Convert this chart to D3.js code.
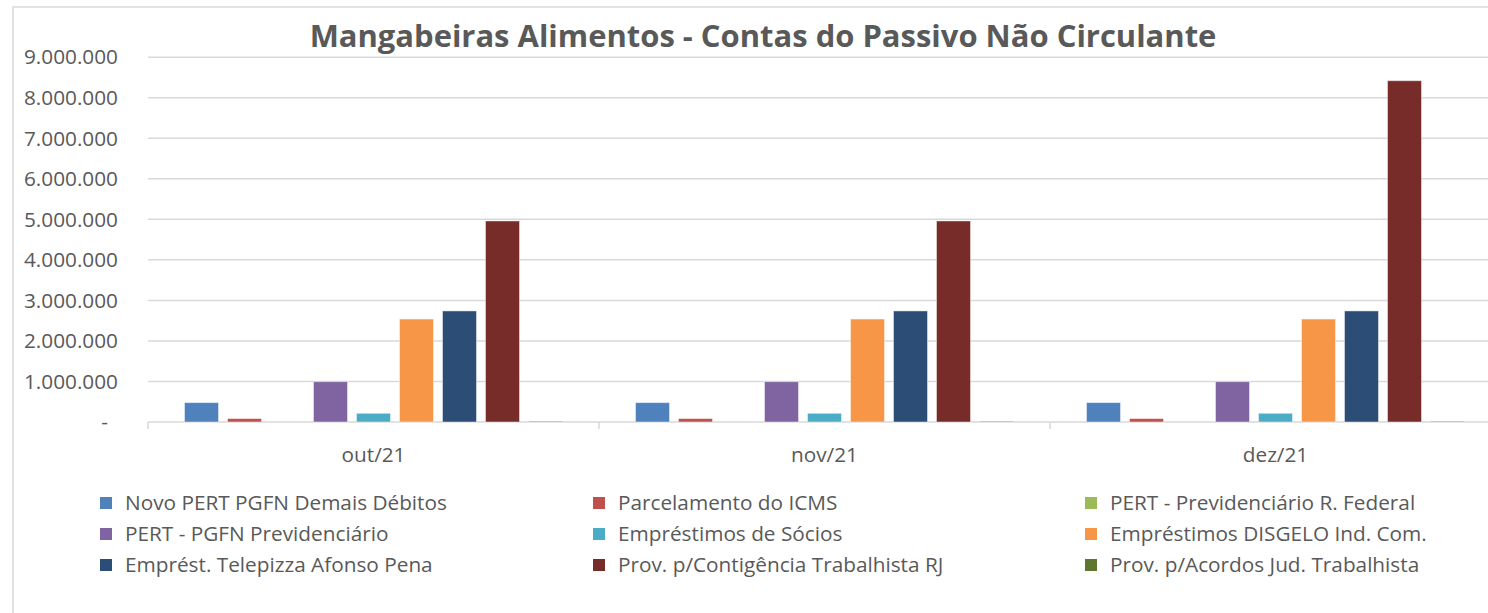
<!DOCTYPE html>
<html>
<head>
<meta charset="utf-8">
<script src="https://cdn.jsdelivr.net/npm/d3@7"></script>
<style>
  body { margin: 0; background: #fff; }
  svg { display: block; font-family: 'Open Sans', sans-serif; }
</style>
</head>
<body>
<svg id="chart" width="1488" height="613"></svg>
<script>
'use strict';

var categories = ['out/21', 'nov/21', 'dez/21'];
var seriesNames = [
  'Novo PERT PGFN Demais Débitos',
  'Parcelamento do ICMS',
  'PERT - Previdenciário R. Federal',
  'PERT - PGFN Previdenciário',
  'Empréstimos de Sócios',
  'Empréstimos DISGELO Ind. Com.',
  'Emprést. Telepizza Afonso Pena',
  'Prov. p/Contigência Trabalhista RJ',
  'Prov. p/Acordos Jud. Trabalhista'
];
var seriesColors = ['#4F81BD', '#C0504D', '#9BBB59', '#8064A2', '#4BACC6', '#F79646', '#2C4D75', '#772C2A', '#5F7530'];
// values per series: [out/21, nov/21, dez/21]
var novoPert = [478000, 478000, 478000];
var parcelamentoIcms = [85000, 85000, 85000];
var pertRFederal = [0, 0, 0];
var pertPgfnPrev = [995000, 995000, 995000];
var emprestSocios = [215000, 215000, 215000];
var emprestDisgelo = [2540000, 2540000, 2540000];
var emprestTelepizza = [2740000, 2740000, 2740000];
var provContigencia = [4960000, 4960000, 8420000];
var provAcordos = [15000, 15000, 15000];
var seriesValues = [novoPert, parcelamentoIcms, pertRFederal, pertPgfnPrev, emprestSocios,
  emprestDisgelo, emprestTelepizza, provContigencia, provAcordos];
var yTicks = [0, 1000000, 2000000, 3000000, 4000000, 5000000, 6000000, 7000000, 8000000, 9000000];
var title = 'Mangabeiras Alimentos - Contas do Passivo Não Circulante';

var textColor = '#595959';
var gridColor = '#D9D9D9';
var plotLeft = 148;
var plotRight = 1501;
var plotTop = 57.2;
var plotBottom = 422;

var svg = d3.select('#chart');
svg.append('rect').attr('width', 1488).attr('height', 613).attr('fill', '#fff');

// chart frame
svg.append('path').attr('d', 'M13,613 V7 H1488').attr('fill', 'none').attr('stroke', gridColor).attr('stroke-width', 1.5);

// scale a font so a text gets a given width
function fitWidth(textSel, target) {
  var size = parseFloat(textSel.attr('font-size'));
  var w = textSel.node().getComputedTextLength();
  var newSize = size * target / w;
  textSel.attr('font-size', newSize);
  return newSize;
}

var y = d3.scaleLinear().domain([0, 9000000]).range([plotBottom, plotTop]);
var x0 = d3.scaleBand().domain(categories).range([plotLeft, plotRight]);
var x1 = d3.scaleBand().domain(d3.range(seriesNames.length)).range([0, x0.bandwidth()])
  .paddingInner(9 / 43).paddingOuter(0.849);

// find label font size from a legend entry
var probe = svg.append('text').attr('font-size', 20).text(seriesNames[0]);
var labelSize = fitWidth(probe, 322);
probe.remove();

// gridlines
svg.append('g').selectAll('line').data(yTicks).join('line')
  .attr('x1', plotLeft).attr('x2', plotRight)
  .attr('y1', function (d) { return y(d); }).attr('y2', function (d) { return y(d); })
  .attr('stroke', gridColor).attr('stroke-width', 1.5);

// y labels
var fmt = function (d) {
  if (d === 0) return '-';
  return d3.format(',')(d).replace(/,/g, '.');
};
svg.append('g').selectAll('text').data(yTicks).join('text')
  .attr('x', function (d) { return d === 0 ? 108 : 118; })
  .attr('y', function (d) { return y(d); })
  .attr('dy', '0.35em')
  .attr('text-anchor', 'end')
  .attr('font-size', labelSize)
  .attr('fill', textColor)
  .text(fmt);

// category ticks
var bounds = [plotLeft].concat(categories.map(function (c) { return x0(c) + x0.bandwidth(); }));
svg.append('g').selectAll('line').data(bounds).join('line')
  .attr('x1', function (d) { return d; }).attr('x2', function (d) { return d; })
  .attr('y1', plotBottom).attr('y2', plotBottom + 7)
  .attr('stroke', gridColor).attr('stroke-width', 1.5);

// bars
var groups = svg.append('g').selectAll('g').data(categories).join('g')
  .attr('transform', function (c) { return 'translate(' + x0(c) + ',0)'; });
groups.selectAll('rect')
  .data(function (c, ci) {
    return seriesValues.map(function (vals, si) { return { s: si, v: vals[ci] }; });
  })
  .join('rect')
  .attr('x', function (d) { return x1(d.s); })
  .attr('y', function (d) { return y(d.v); })
  .attr('width', x1.bandwidth())
  .attr('height', function (d) { return plotBottom - y(d.v); })
  .attr('fill', function (d) { return seriesColors[d.s]; })
  .attr('stroke', function (d) { return d.v > 0 ? 'rgba(255,255,255,0.45)' : 'none'; })
  .attr('stroke-width', 1);

// x labels
svg.append('g').selectAll('text').data(categories).join('text')
  .attr('x', function (c) { return x0(c) + x0.bandwidth() / 2; })
  .attr('y', 455)
  .attr('dy', '0.35em')
  .attr('text-anchor', 'middle')
  .attr('font-size', labelSize)
  .attr('fill', textColor)
  .text(function (c) { return c; });

// title
var titleText = svg.append('text')
  .attr('x', 763).attr('y', 47)
  .attr('text-anchor', 'middle')
  .attr('font-size', 30)
  .attr('font-weight', 'bold')
  .attr('fill', textColor)
  .text(title);
fitWidth(titleText, 907);

// legend
var legendCols = [100, 593, 1085];
var legendRows = [503, 534, 565];
var legend = svg.append('g').selectAll('g').data(seriesNames).join('g')
  .attr('transform', function (d, i) {
    return 'translate(' + legendCols[i % 3] + ',' + legendRows[Math.floor(i / 3)] + ')';
  });
legend.append('rect')
  .attr('x', 0).attr('y', -6).attr('width', 12).attr('height', 12)
  .attr('fill', function (d, i) { return seriesColors[i]; });
legend.append('text')
  .attr('x', 25).attr('dy', '0.35em')
  .attr('font-size', labelSize)
  .attr('fill', textColor)
  .text(function (d) { return d; });
</script>
</body>
</html>
